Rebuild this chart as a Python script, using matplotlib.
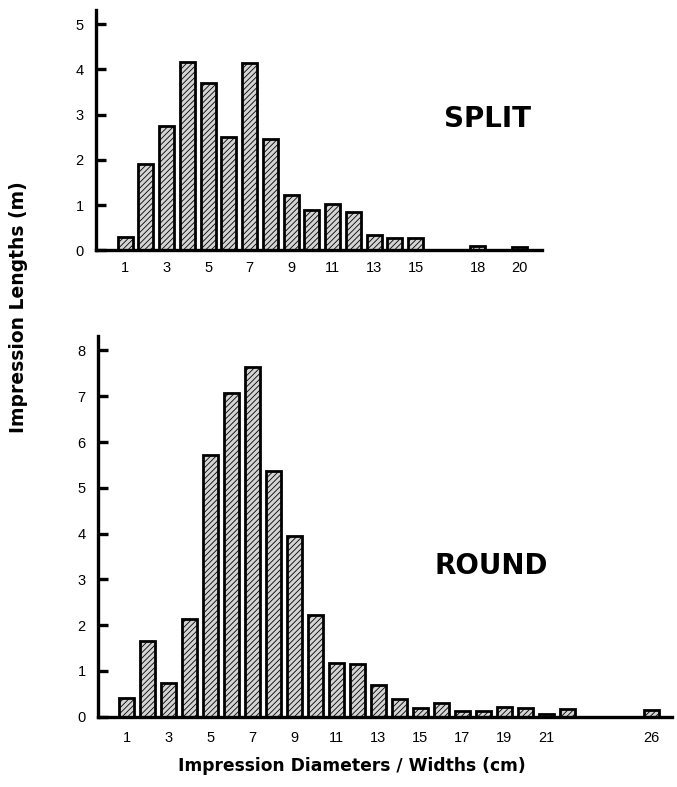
import numpy as np
import matplotlib.pyplot as plt

plt.rcParams['font.family'] = ['Liberation Sans', 'DejaVu Sans']
plt.rcParams['hatch.linewidth'] = 0.6

# split impressions, diameters 1..20 cm
split_x = np.arange(1, 21)
split_len = [0.30, 1.90, 2.75, 4.17, 3.70, 2.50, 4.15, 2.46, 1.22, 0.90,
             1.02, 0.85, 0.33, 0.27, 0.28, 0.0, 0.0, 0.09, 0.0, 0.08]
split_ticks = [1, 3, 5, 7, 9, 11, 13, 15, 18, 20]

# round impressions, widths 1..26 cm
round_x = np.arange(1, 27)
round_len = [0.40, 1.66, 0.74, 2.14, 5.72, 7.07, 7.64, 5.36, 3.95, 2.23,
             1.17, 1.15, 0.70, 0.38, 0.18, 0.29, 0.13, 0.13, 0.22, 0.19,
             0.07, 0.16, 0.0, 0.0, 0.0, 0.14]
round_ticks = [1, 3, 5, 7, 9, 11, 13, 15, 17, 19, 21, 26]

fig = plt.figure(figsize=(6.77, 7.87), dpi=100)
ax1 = fig.add_axes([0.142, 0.682, 0.659, 0.305])
ax2 = fig.add_axes([0.145, 0.0893, 0.848, 0.484])


def style(ax, x, y, ticks, xlim, ylim, yticks):
    ax.bar(x, y, width=0.72, facecolor='#d4d4d4', edgecolor='black',
           linewidth=2.0, hatch='//////', zorder=2)
    ax.set_xlim(*xlim)
    ax.set_ylim(*ylim)
    ax.set_xticks(ticks)
    ax.set_yticks(yticks)
    for s in ['top', 'right']:
        ax.spines[s].set_visible(False)
    for s in ['left', 'bottom']:
        ax.spines[s].set_linewidth(2.4)
    ax.tick_params(axis='y', direction='in', length=7, width=2.4,
                   labelsize=10.5, pad=9)
    ax.tick_params(axis='x', length=0, labelsize=10.5)


bold = dict(family='DejaVu Sans', fontweight='bold')

style(ax1, split_x, split_len, split_ticks, (-0.4, 21.1), (0, 5.31), range(0, 6))
ax1.tick_params(axis='x', pad=8)
ax1.text(18.45, 2.9, 'SPLIT', fontsize=20, ha='center', va='center', **bold)

style(ax2, round_x, round_len, round_ticks, (-0.35, 27.0), (0, 8.32), range(0, 9))
ax2.tick_params(axis='x', pad=10)
ax2.text(18.37, 3.3, 'ROUND', fontsize=20, ha='center', va='center', **bold)

fig.text(0.028, 0.61, 'Impression Lengths (m)', rotation=90, fontsize=13.5,
         ha='center', va='center', **bold)
fig.text(0.52, 0.027, 'Impression Diameters / Widths (cm)', fontsize=12.3,
         ha='center', va='center', **bold)

fig.savefig('out.png', dpi=100)
